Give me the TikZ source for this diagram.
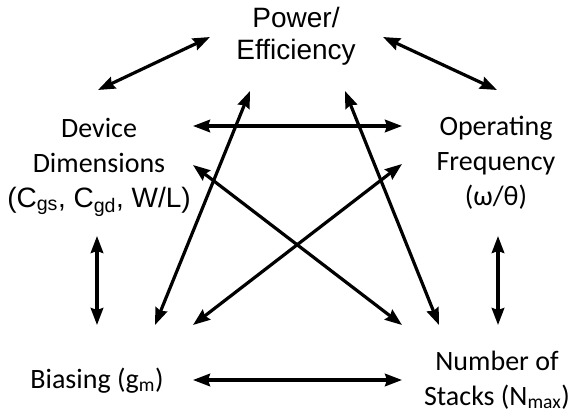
\documentclass[tikz,border=0pt]{standalone}
\usepackage{fontspec}
\setmainfont{Carlito}
\newfontfamily\arialfont{Liberation Sans}
\usetikzlibrary{arrows.meta}

\begin{document}
\begin{tikzpicture}[x=1pt,y=-1pt,
  lbl/.style={inner sep=0pt,align=center,anchor=base},
  calibri/.style={font=\fontsize{28}{35}\selectfont},
  arial/.style={font=\arialfont\fontsize{28}{32}\selectfont},
  link/.style={line width=3.2pt,
    {Stealth[length=17pt,width=12.5pt,inset=2pt]}-{Stealth[length=17pt,width=12.5pt,inset=2pt]}}]
\useasboundingbox (0,0) rectangle (577,417);

% factor labels (placed by the baseline of their last line)
\node[lbl,arial]   (pow)  at (296,60)  {Power/\\Efficiency};
\node[lbl,calibri] (dev)  at (99,207)  {Device\\Dimensions\\{\arialfont (C\textsubscript{gs}, C\textsubscript{gd}, W/L)}};
\node[lbl,calibri] (frq)  at (496,205) {Operating\\Frequency\\(ω/θ)};
\node[lbl,calibri] (bias) at (97,388)  {Biasing (g\textsubscript{m})};
\node[lbl,calibri] (stk)  at (497,405) {Number of\\Stacks (N\textsubscript{max})};

% connector end points
\coordinate (powL)  at (210,37);
\coordinate (powR)  at (383,37);
\coordinate (powBL) at (250,91);
\coordinate (powBR) at (345,91);
\coordinate (devT)  at (98,90);
\coordinate (devR)  at (193,126);
\coordinate (devLR) at (193,165);
\coordinate (devB)  at (97,236);
\coordinate (frqT)  at (497,90);
\coordinate (frqL)  at (402,126);
\coordinate (frqLL) at (402,164);
\coordinate (frqB)  at (498,236);
\coordinate (biasT) at (97,325);
\coordinate (biasA) at (155,325);
\coordinate (biasB) at (193,325);
\coordinate (biasR) at (193,380);
\coordinate (stkT)  at (498,325);
\coordinate (stkA)  at (439,325);
\coordinate (stkB)  at (402,325);
\coordinate (stkL)  at (402,380);

% trade-off arrows
\draw[link] (devT) -- (powL);
\draw[link] (powR) -- (frqT);
\draw[link] (devR) -- (frqL);
\draw[link] (biasA) -- (powBL);
\draw[link] (stkA) -- (powBR);
\draw[link] (devLR) -- (stkB);
\draw[link] (frqLL) -- (biasB);
\draw[link] (devB) -- (biasT);
\draw[link] (frqB) -- (stkT);
\draw[link] (biasR) -- (stkL);
\end{tikzpicture}
\end{document}
